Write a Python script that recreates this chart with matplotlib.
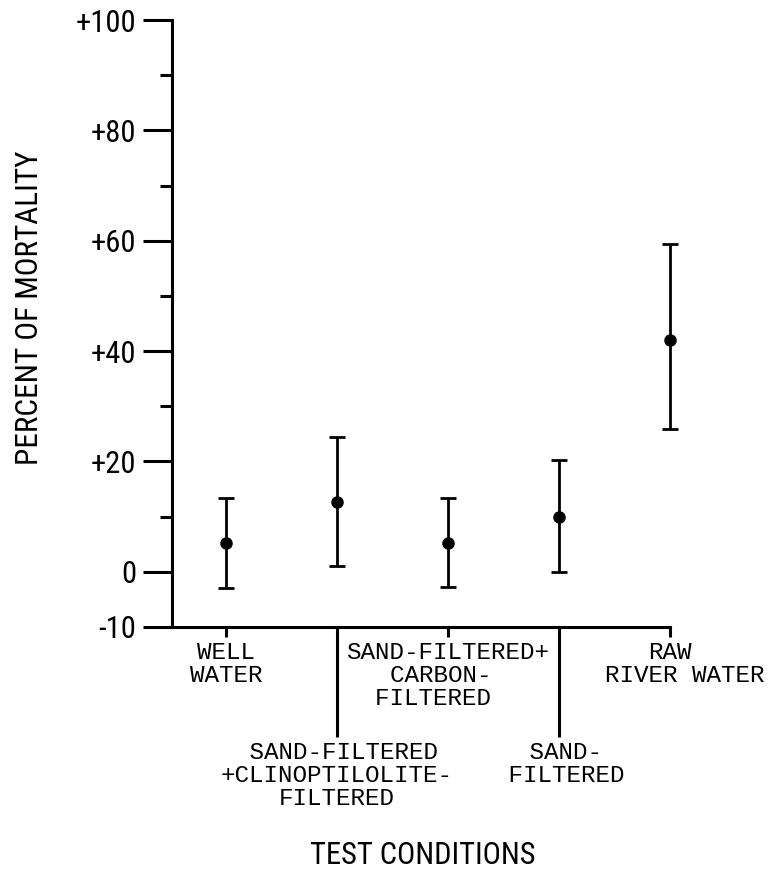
import matplotlib
matplotlib.use('Agg')
import matplotlib.pyplot as plt

NARROW = ['Roboto Condensed', 'DejaVu Sans']
MONO = ['Liberation Mono', 'DejaVu Sans Mono']

conditions = ['WELL\nWATER',
              ' SAND-FILTERED\n+CLINOPTILOLITE-\nFILTERED',
              'SAND-FILTERED+\nCARBON- \nFILTERED  ',
              ' SAND-\n FILTERED',
              'RAW\n  RIVER WATER']
positions = [1, 2, 3, 4, 5]
mortality = [5.3, 12.7, 5.3, 10.0, 42.0]
lower = [-2.9, 1.1, -2.7, -0.1, 25.9]
upper = [13.4, 24.5, 13.4, 20.3, 59.4]

y_major = [-10, 0, 20, 40, 60, 80, 100]
y_major_labels = ['-10', '0', '+20', '+40', '+60', '+80', '+100']
y_minor = [10, 30, 50, 70, 90]


def main():
    fig = plt.figure(figsize=(7.7, 8.73), dpi=100)
    ax = fig.add_axes([172 / 770, 1 - 627 / 873, 498 / 770, 607 / 873])

    err = [[m - lo for m, lo in zip(mortality, lower)],
           [hi - m for m, hi in zip(mortality, upper)]]
    ax.errorbar(positions, mortality, yerr=err, fmt='o', color='k', ms=8,
                elinewidth=2, capsize=6, capthick=2, clip_on=False)

    ax.set_xlim(0.514, 5.0)
    ax.set_ylim(-10, 100)

    for side in ['top', 'right']:
        ax.spines[side].set_visible(False)
    for side in ['left', 'bottom']:
        ax.spines[side].set_linewidth(2.2)

    ax.set_yticks(y_major)
    ax.set_yticklabels(y_major_labels, family=NARROW, fontsize=22)
    ax.set_yticks(y_minor, minor=True)
    ax.tick_params(axis='y', which='major', direction='out', length=21, width=2.2, pad=5)
    ax.tick_params(axis='y', which='minor', direction='out', length=8.5, width=2.2)

    ax.set_xticks(positions[0::2])
    ax.set_xticklabels(conditions[0::2], family=MONO, fontsize=17.5, linespacing=1.0)
    ax.set_xticks(positions[1::2], minor=True)
    ax.set_xticklabels(conditions[1::2], minor=True, family=MONO, fontsize=17.5, linespacing=1.0)
    ax.tick_params(axis='x', which='major', direction='out', length=7, width=2.2, pad=3)
    ax.tick_params(axis='x', which='minor', direction='out', length=79, width=2.2, pad=3)

    fig.text(30 / 770, 1 - 308 / 873, 'PERCENT OF MORTALITY', rotation=90,
             ha='center', va='center', family=NARROW, fontsize=22.5)
    fig.text(423 / 770, 1 - 856 / 873, 'TEST CONDITIONS',
             ha='center', va='center', family=NARROW, fontsize=22)

    fig.savefig('out.png', dpi=100)


if __name__ == '__main__':
    main()
